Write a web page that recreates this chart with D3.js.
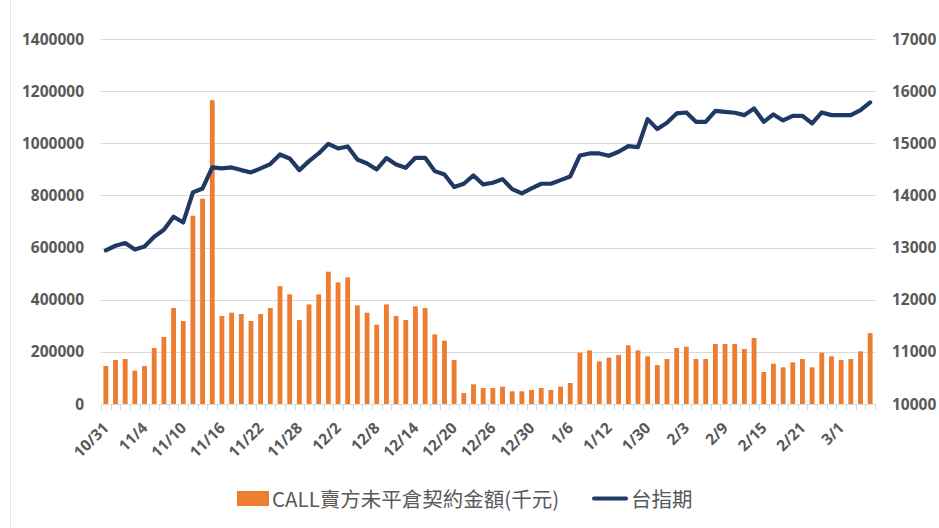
<!DOCTYPE html>
<html>
<head>
<meta charset="utf-8">
<script src="https://cdn.jsdelivr.net/npm/d3@7"></script>
<style>
    body { margin: 0; background: #fff; }
    .tick-label { font-family: "Open Sans", "Liberation Sans", sans-serif; font-weight: 700; font-size: 15.5px; fill: #595959; }
    .legend-text { font-family: "Noto Sans CJK TC", "Noto Sans", sans-serif; font-size: 20.5px; fill: #595959; }
</style>
</head>
<body>
<div class="chart"></div>
<script>
// x tick labels, one every 4 trading days
var tickLabels = ["10/31", "11/4", "11/10", "11/16", "11/22", "11/28", "12/2", "12/8", "12/14", "12/20",
    "12/26", "12/30", "1/6", "1/12", "1/30", "2/3", "2/9", "2/15", "2/21", "3/1"];

// CALL 賣方未平倉契約金額 (千元)
var callOI = [145700, 168700, 172500, 127800, 145700, 214700, 256900, 368000, 318200, 722000,
    787300, 1165500, 337400, 350200, 345100, 318200, 345100, 368000, 452400, 420500,
    322000, 382100, 420500, 507400, 466500, 485600, 378300, 350200, 304200, 382100,
    337400, 322000, 374500, 368000, 267100, 242800, 168700, 42200, 75400, 61300,
    61300, 66500, 48600, 48600, 53700, 61300, 53700, 66500, 80500, 196800,
    205800, 163600, 177700, 187900, 224900, 205800, 182800, 149500, 172500, 214700,
    219800, 172500, 172500, 230000, 230000, 230000, 210900, 253000, 122700, 154600,
    140600, 159700, 172500, 140600, 196800, 182800, 168700, 172500, 201900, 272200];

// 台指期
var taiex = [12946, 13035, 13086, 12965, 13022, 13208, 13342, 13591, 13482, 14058,
    14134, 14537, 14518, 14537, 14486, 14441, 14518, 14601, 14786, 14709,
    14486, 14658, 14805, 14990, 14901, 14939, 14690, 14613, 14498, 14716,
    14594, 14530, 14722, 14722, 14466, 14403, 14160, 14224, 14383, 14211,
    14243, 14313, 14121, 14038, 14134, 14224, 14224, 14294, 14364, 14767,
    14805, 14805, 14760, 14837, 14946, 14927, 15463, 15272, 15393, 15572,
    15591, 15412, 15412, 15623, 15604, 15585, 15540, 15668, 15412, 15553,
    15438, 15527, 15527, 15380, 15591, 15540, 15540, 15540, 15636, 15783];

var WIDTH = 939, HEIGHT = 528;
var margin = { top: 39, right: 64, bottom: 124, left: 101 },
    width = WIDTH - margin.left - margin.right,
    height = HEIGHT - margin.top - margin.bottom;

var svg = d3.select('.chart').append("svg")
    .attr('width', WIDTH)
    .attr('height', HEIGHT);

// chart frame edge on the left
svg.append("line")
    .attr("x1", 10.5).attr("x2", 10.5)
    .attr("y1", 0).attr("y2", HEIGHT)
    .attr("stroke", "#e6e6e6");

var root = svg.append("g")
    .attr("transform", "translate(" + margin.left + "," + margin.top + ")");

var xScale = d3.scaleBand()
    .domain(d3.range(callOI.length))
    .range([0, width])
    .paddingInner(0.5)
    .paddingOuter(0.25);

var yLeft = d3.scaleLinear().domain([0, 1400000]).range([height, 0]);
var yRight = d3.scaleLinear().domain([10000, 17000]).range([height, 0]);

// gridlines
var leftTicks = d3.range(0, 1400001, 200000);
root.selectAll(".grid")
    .data(leftTicks.slice(1))
    .enter()
    .append("line")
    .attr("class", "grid")
    .attr("x1", 0).attr("x2", width)
    .attr("y1", d => Math.round(yLeft(d)) + 0.5)
    .attr("y2", d => Math.round(yLeft(d)) + 0.5)
    .attr("stroke", "#d9d9d9")
    .attr("stroke-width", 1.2);

// bars
root.selectAll("rect.bar")
    .data(callOI)
    .enter()
    .append("rect")
    .attr("class", "bar")
    .attr("x", (d, i) => xScale(i))
    .attr("width", xScale.bandwidth())
    .attr("y", d => yLeft(d))
    .attr("height", d => height - yLeft(d))
    .attr("fill", "#ED7D31");

// baseline + category ticks
root.append("line")
    .attr("x1", 0).attr("x2", width)
    .attr("y1", height + 0.5).attr("y2", height + 0.5)
    .attr("stroke", "#d9d9d9")
    .attr("stroke-width", 1.2);

var step = xScale.step();
root.selectAll(".xtick")
    .data(d3.range(callOI.length + 1))
    .enter()
    .append("line")
    .attr("class", "xtick")
    .attr("x1", d => Math.round(d * step) + 0.5)
    .attr("x2", d => Math.round(d * step) + 0.5)
    .attr("y1", height).attr("y2", height + 6)
    .attr("stroke", "#d9d9d9");

// line
var line = d3.line()
    .x((d, i) => xScale(i) + xScale.bandwidth() / 2)
    .y(d => yRight(d));

root.append("path")
    .datum(taiex)
    .attr("d", line)
    .attr("fill", "none")
    .attr("stroke", "#1F3864")
    .attr("stroke-width", 4.2)
    .attr("stroke-linejoin", "round")
    .attr("stroke-linecap", "round");

// left axis labels
root.selectAll(".yl")
    .data(leftTicks)
    .enter()
    .append("text")
    .attr("class", "tick-label")
    .attr("x", -17)
    .attr("y", d => yLeft(d))
    .attr("dy", "0.36em")
    .attr("text-anchor", "end")
    .text(d => d);

// right axis labels
root.selectAll(".yr")
    .data(d3.range(10000, 17001, 1000))
    .enter()
    .append("text")
    .attr("class", "tick-label")
    .attr("x", width + 17)
    .attr("y", d => yRight(d))
    .attr("dy", "0.36em")
    .attr("text-anchor", "start")
    .text(d => d);

// x labels
root.selectAll(".xl")
    .data(tickLabels)
    .enter()
    .append("text")
    .attr("class", "tick-label")
    .attr("text-anchor", "end")
    .attr("transform", (d, i) => {
        var cx = xScale(i * 4) + xScale.bandwidth() / 2 + 4;
        return "translate(" + cx + "," + (height + 25) + ") rotate(-45)";
    })
    .text(d => d);

// legend
var legend = svg.append("g");

legend.append("rect")
    .attr("x", 237).attr("y", 491)
    .attr("width", 32).attr("height", 15)
    .attr("fill", "#ED7D31");

legend.append("text")
    .attr("class", "legend-text")
    .attr("x", 272).attr("y", 507)
    .text("CALL賣方未平倉契約金額(千元)");

legend.append("line")
    .attr("x1", 594).attr("x2", 626)
    .attr("y1", 498.5).attr("y2", 498.5)
    .attr("stroke", "#1F3864")
    .attr("stroke-width", 4)
    .attr("stroke-linecap", "round");

legend.append("text")
    .attr("class", "legend-text")
    .attr("x", 631).attr("y", 507)
    .text("台指期");
</script>
</body>
</html>
